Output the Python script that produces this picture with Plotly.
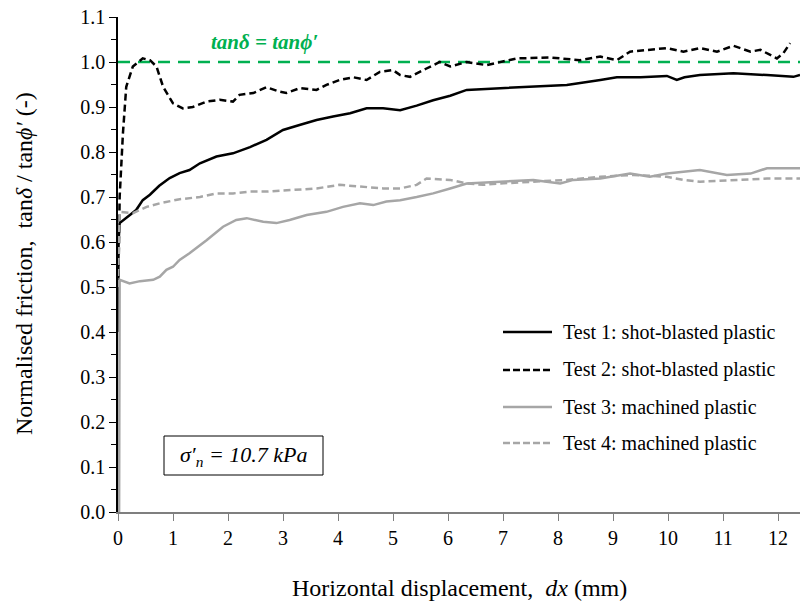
import plotly.graph_objects as go

# ---- data ----
t1_x = [0.0, 0.01, 0.03, 0.21, 0.33, 0.45, 0.58, 0.75, 0.94, 1.12, 1.3, 1.49, 1.79, 2.09, 2.4, 2.7, 3.0, 3.3, 3.61, 3.91,
        4.22, 4.52, 4.82, 5.13, 5.43, 5.73, 6.04, 6.34, 6.95, 7.55, 8.16, 8.77, 9.07, 9.5, 9.98, 10.16, 10.3, 10.58,
        11.19, 11.8, 12.28, 12.4]
t1_y = [0.40, 0.60, 0.642, 0.66, 0.671, 0.693, 0.705, 0.725, 0.742, 0.753, 0.76, 0.775, 0.79, 0.797, 0.811, 0.827,
        0.849, 0.86, 0.871, 0.879, 0.886, 0.897, 0.897, 0.893, 0.903, 0.915, 0.925, 0.938, 0.942, 0.945, 0.949, 0.96,
        0.966, 0.966, 0.969, 0.96, 0.966, 0.971, 0.975, 0.971, 0.967, 0.971]

t2_x = [0.0, 0.03, 0.09, 0.15, 0.27, 0.45, 0.58, 0.7, 0.82, 1.0, 1.18, 1.36, 1.61, 1.85, 2.09, 2.21, 2.46, 2.7, 2.94,
        3.06, 3.31, 3.61, 3.79, 4.03, 4.28, 4.52, 4.76, 5.0, 5.13, 5.31, 5.6, 5.85, 6.04, 6.34, 6.7, 7.25, 7.86, 8.4,
        8.77, 9.07, 9.31, 9.67, 9.98, 10.28, 10.58, 10.89, 11.19, 11.5, 11.68, 11.98, 12.1, 12.22]
t2_y = [0.45, 0.70, 0.842, 0.945, 0.99, 1.008, 1.004, 0.99, 0.945, 0.908, 0.897, 0.9, 0.912, 0.916, 0.912, 0.927,
        0.931, 0.944, 0.934, 0.931, 0.942, 0.938, 0.949, 0.96, 0.966, 0.96, 0.978, 0.982, 0.971, 0.967, 0.985, 1.0,
        0.99, 1.0, 0.993, 1.008, 1.01, 1.004, 1.012, 1.004, 1.023, 1.027, 1.031, 1.023, 1.031, 1.023, 1.036, 1.023,
        1.027, 1.008, 1.02, 1.042]

t3_x = [0.02, 0.03, 0.21, 0.4, 0.64, 0.76, 0.88, 1.0, 1.12, 1.3, 1.61, 1.91, 2.15, 2.34, 2.64, 2.88, 3.12, 3.43,
        3.79, 4.09, 4.4, 4.64, 4.88, 5.13, 5.43, 5.73, 6.04, 6.34, 6.95, 7.55, 8.04, 8.28, 8.77, 9.31, 9.67, 9.98,
        10.58, 11.07, 11.5, 11.8, 12.4]
t3_y = [0.0, 0.516, 0.508, 0.513, 0.516, 0.523, 0.538, 0.545, 0.56, 0.575, 0.604, 0.634, 0.649, 0.653, 0.645,
        0.642, 0.649, 0.66, 0.667, 0.678, 0.686, 0.682, 0.69, 0.693, 0.70, 0.708, 0.719, 0.73, 0.734, 0.738, 0.73,
        0.738, 0.741, 0.752, 0.745, 0.752, 0.76, 0.749, 0.752, 0.764, 0.764]

t4_x = [0.0, 0.03, 0.27, 0.52, 0.76, 1.12, 1.49, 1.79, 2.09, 2.4, 2.7, 3.0, 3.31, 3.61, 4.03, 4.4, 4.82, 5.13, 5.43,
        5.61, 6.04, 6.34, 6.64, 6.95, 7.55, 8.16, 8.77, 9.37, 9.98, 10.28, 10.58, 11.19, 11.8, 12.4]
t4_y = [0.50, 0.667, 0.664, 0.678, 0.686, 0.695, 0.70, 0.708, 0.708, 0.712, 0.712, 0.714, 0.716, 0.719, 0.727,
        0.723, 0.719, 0.719, 0.727, 0.741, 0.738, 0.73, 0.727, 0.73, 0.734, 0.738, 0.745, 0.749, 0.745, 0.738, 0.734,
        0.738, 0.741, 0.741]

ref_x = [0.0, 12.4]
ref_y = [1.0, 1.0]

names = ["Test 1: shot-blasted plastic", "Test 2: shot-blasted plastic",
         "Test 3: machined plastic", "Test 4: machined plastic"]

x_title = "Horizontal displacement,  <i>dx</i> (mm)"
y_title = "Normalised friction,  tan<i>δ</i> / tan<i>ϕ′</i> (-)"

FONT = "Liberation Serif, Times New Roman, serif"
BLACK = "#000000"
GREY = "#A6A6A6"
GREEN = "#00B050"

# plot area geometry in px (for paper-coordinate placement of annotations)
L, R, T, B = 118, 800, 17, 512
PW, PH = R - L, B - T


def px(xp):
    return (xp - L) / PW


def py(yp):
    return (B - yp) / PH


fig = go.Figure()
fig.add_trace(go.Scatter(x=ref_x, y=ref_y, mode="lines", showlegend=False,
                         line=dict(color=GREEN, width=2.5, dash="12px,8px")))
series = [(t1_x, t1_y, BLACK, "solid"), (t2_x, t2_y, BLACK, "7px,4px"),
          (t3_x, t3_y, GREY, "solid"), (t4_x, t4_y, GREY, "7px,4px")]
for i, (xs, ys, c, d) in enumerate(series):
    fig.add_trace(go.Scatter(x=xs, y=ys, mode="lines", name=names[i], showlegend=False,
                             line=dict(color=c, width=2.5, dash=d)))

# custom legend (long line samples like the reference)
leg_rows = [332, 370, 407, 443]
for i, (xs, ys, c, d) in enumerate(series):
    dash = "solid" if d == "solid" else "7px,3px"
    fig.add_shape(type="line", xref="paper", yref="paper", x0=px(503), x1=px(552),
                  y0=py(leg_rows[i]), y1=py(leg_rows[i]),
                  line=dict(color=c, width=2.5, dash=dash))
    fig.add_annotation(xref="paper", yref="paper", x=px(561), y=py(leg_rows[i]), text=names[i],
                       showarrow=False, xanchor="left", yanchor="middle",
                       font=dict(family=FONT, size=20, color="#000000"))

fig.update_layout(
    width=800, height=608,
    margin=dict(l=L, r=800 - R, t=T, b=608 - B),
    paper_bgcolor="white", plot_bgcolor="white",
    font=dict(family=FONT, color="#000000", size=20),
    showlegend=False,
    xaxis=dict(range=[0, 12.4], tickmode="linear", tick0=0, dtick=1, showgrid=False, zeroline=False,
               showline=True, linecolor="#7F7F7F", linewidth=1.5, ticks="outside", ticklen=7,
               tickcolor="#7F7F7F", tickfont=dict(size=20, color="#000000")),
    yaxis=dict(range=[0, 1.1], tickmode="linear", tick0=0, dtick=0.1, tickformat=".1f", showgrid=False,
               zeroline=False, showline=True, linecolor="#000000", linewidth=1.5, ticks="outside", ticklen=7,
               tickcolor="#000000", tickfont=dict(size=20),
               minor=dict(ticks="outside", ticklen=5, dtick=0.05, tickcolor="#000000")),
)

# axis titles
fig.add_annotation(xref="paper", yref="paper", x=px(459), y=py(588), text=x_title, showarrow=False,
                   xanchor="center", yanchor="middle", font=dict(family=FONT, size=24, color="#000000"))
fig.add_annotation(xref="paper", yref="paper", x=px(24), y=py(264), text=y_title, showarrow=False,
                   textangle=-90, xanchor="center", yanchor="middle",
                   font=dict(family=FONT, size=24, color="#000000"))

fig.add_shape(type="rect", xref="paper", yref="paper",
              x0=px(164), x1=px(323), y0=py(475), y1=py(436),
              line=dict(color="#000000", width=1), fillcolor="white")
fig.add_annotation(xref="paper", yref="paper", x=px(243.5), y=py(455.5),
                   text="<i>σ′<sub>n</sub> = 10.7 kPa</i>", showarrow=False,
                   font=dict(family=FONT, size=22, color="#000000"), xanchor="center", yanchor="middle")
fig.add_annotation(xref="paper", yref="paper", x=px(264), y=py(42),
                   text="<b><i>tanδ = tanϕ′</i></b>", showarrow=False,
                   font=dict(family=FONT, size=21, color=GREEN), xanchor="center", yanchor="middle")

fig.write_html("out.html")
